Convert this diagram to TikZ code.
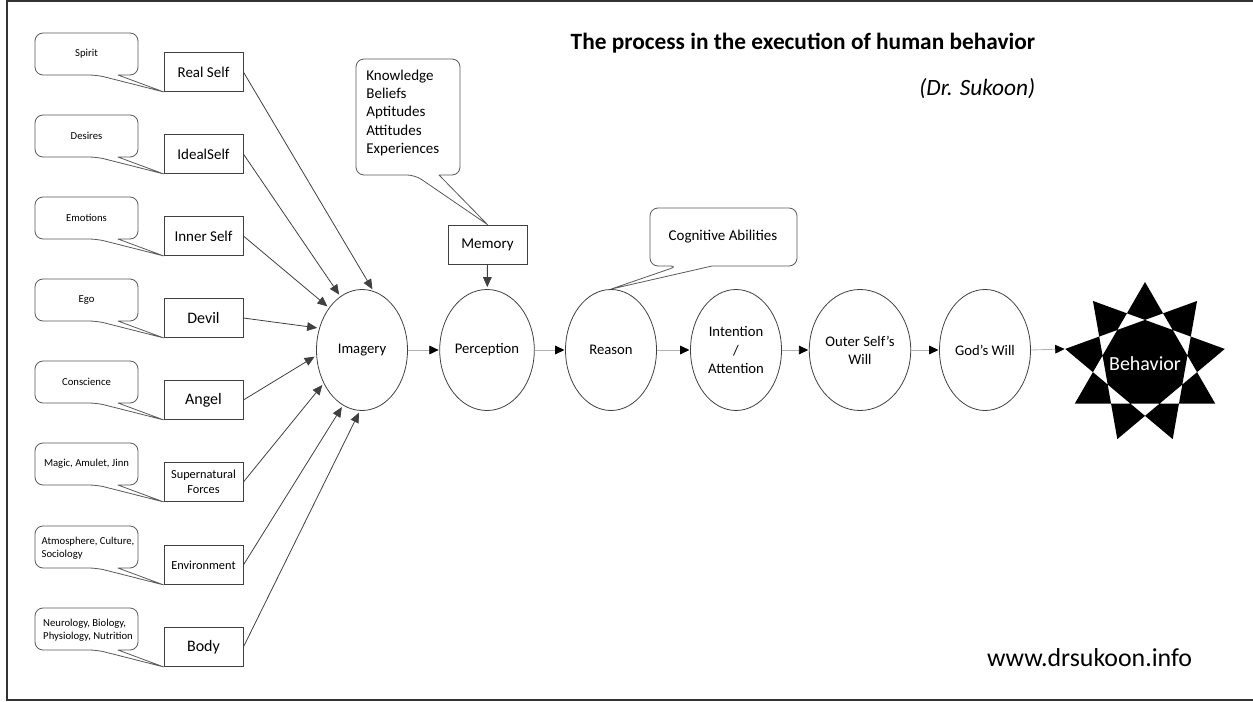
\documentclass[tikz,border=0pt]{standalone}
\usepackage{fontspec}
\setmainfont{Carlito}
\usetikzlibrary{shapes.geometric,arrows.meta}

\tikzset{every picture/.style={line width=0.6pt}}
\tikzset{
  stage/.style={draw=black!75, ellipse, minimum width=68.25pt, minimum height=90.75pt, inner sep=1pt, align=center, font=\fontsize{11}{13.75}\selectfont},
  selfbox/.style={draw=black!75, minimum width=59.25pt, minimum height=29.25pt, inner sep=1pt, align=center, font=\fontsize{11.25}{13}\selectfont},
  bigword/.style={font=\fontsize{12}{14}\selectfont},
  smallword/.style={font=\fontsize{9.25}{11.25}\selectfont},
  note/.style={align=left, inner sep=0pt, font=\fontsize{8}{9.5}\selectfont},
  bubble/.style={draw=black!65, rounded corners=6pt, line join=round},
  feed/.style={draw=black!75, shorten >=1.5pt, -{Triangle[length=7.5pt,width=6.5pt]}},
  flow/.style={draw=black!30, shorten >=0.5pt, -{Triangle[length=7pt,width=6.5pt,color=black]}}
}

\begin{document}
\begin{tikzpicture}[x=0.75pt,y=0.75pt,yscale=-1,xscale=1]
	\useasboundingbox (0,0) rectangle (1253,702);
	%Shape: Frame
	\draw [black!80, line width=1.2pt] (1253,1) -- (7,1) -- (7,700) -- (1253,700);
	
	% Text Node
	\node [anchor=base east, font=\bfseries\fontsize{17.5}{21}\selectfont] (title) at (1040,50) {The process in the execution of human behavior};
	% Text Node
	\node [anchor=base east, font=\itshape\fontsize{17.5}{21}\selectfont] (author) at (1040,96) {(Dr. Sukoon)};
	% Text Node
	\node [anchor=base east, font=\fontsize{19.4}{23}\selectfont] (site) at (1197,666) {www.drsukoon.info};
	
	%Shape: Rectangle
	\node [selfbox] (realself) at (203.5,72) {Real Self};
	\node [selfbox] (idealself) at (203.5,154) {IdealSelf};
	\node [selfbox] (innerself) at (203.5,236) {Inner Self};
	\node [selfbox, bigword] (devil) at (203.5,318) {Devil};
	\node [selfbox, bigword] (angel) at (203.5,400) {Angel};
	\node [selfbox, smallword] (supernatural) at (203.5,482) {Supernatural\\Forces};
	\node [selfbox, smallword] (environment) at (203.5,565) {Environment};
	\node [selfbox, bigword] (body) at (203.5,647) {Body};
	\node [selfbox] (memory) at (487.5,244.5) {Memory};
	
	%Shape: Callout
	\draw [bubble] (118,75) -- (138,75) -- (138,33) -- (35,33) -- (35,75) -- (97,75) [sharp corners] -- (realself.south west) -- cycle;
	\draw [bubble] (118,157) -- (138,157) -- (138,115) -- (35,115) -- (35,157) -- (97,157) [sharp corners] -- (idealself.south west) -- cycle;
	\draw [bubble] (118,239) -- (138,239) -- (138,197) -- (35,197) -- (35,239) -- (97,239) [sharp corners] -- (innerself.south west) -- cycle;
	\draw [bubble] (118,321) -- (138,321) -- (138,279) -- (35,279) -- (35,321) -- (97,321) [sharp corners] -- (devil.south west) -- cycle;
	\draw [bubble] (118,403) -- (138,403) -- (138,361) -- (35,361) -- (35,403) -- (97,403) [sharp corners] -- (angel.south west) -- cycle;
	\draw [bubble] (118,485) -- (138,485) -- (138,443) -- (35,443) -- (35,485) -- (97,485) [sharp corners] -- (supernatural.south west) -- cycle;
	\draw [bubble] (118,568) -- (138,568) -- (138,526) -- (35,526) -- (35,568) -- (97,568) [sharp corners] -- (environment.south west) -- cycle;
	\draw [bubble] (118,650) -- (138,650) -- (138,608) -- (35,608) -- (35,650) -- (97,650) [sharp corners] -- (body.south west) -- cycle;
	\draw [bubble] (439,175) -- (460,175) -- (460,59) -- (356,59) -- (356,175) -- (415,175) [sharp corners] -- (memory.north) -- cycle;
	
	% Text Node
	\node [note] (spirit) at (86.5,54) {Spirit};
	\node [note] (desires) at (86.5,136) {Desires};
	\node [note] (emotions) at (86.5,218) {Emotions};
	\node [note] (ego) at (86.5,300) {Ego};
	\node [note] (conscience) at (86.5,382) {Conscience};
	\node [note] (magic) at (86.5,464) {Magic, Amulet, Jinn};
	\node [note] (atmosphere) at (88,548) {Atmosphere, Culture,\\Sociology};
	\node [note] (neurology) at (88,630) {Neurology, Biology,\\Physiology, Nutrition};
	\node [note, anchor=west, font=\fontsize{11.25}{13.75}\selectfont] (memorylist) at (366,113) {Knowledge\\Beliefs\\Aptitudes\\Attitudes\\Experiences};
	
	%Shape: Ellipse
	\node [stage] (imagery) at (362,350) {Imagery};
	\node [stage] (perception) at (487,350) {Perception};
	\node [stage] (reason) at (611,350) {Reason};
	\node [stage] (intention) at (736,350) {Intention\\/\\Attention};
	\node [stage] (outerwill) at (860,350) {Outer Self’s\\Will};
	\node [stage] (godswill) at (985,350) {God’s Will};
	
	%Shape: Callout
	\draw [bubble] (712,266) -- (797,266) -- (797,208) -- (650,208) -- (650,266) -- (678,266) [sharp corners] -- (reason.north) -- cycle;
	% Text Node
	\node [font=\fontsize{11.25}{13.75}\selectfont] (cognitive) at (723,237) {Cognitive Abilities};
	
	%Shape: Star
	\begin{scope}[shift={(1145,363)}]
		\fill [even odd rule] \foreach \a in {-90,-130,-50} {(\a:81) -- (\a+120:81) -- (\a+240:81) -- cycle};
		\coordinate (startip) at (190:81);
	\end{scope}
	% Text Node
	\node [text=white, font=\fontsize{15}{18}\selectfont] (behavior) at (1145,364) {Behavior};
	
	%Straight Lines
	\draw [feed] (realself.east) -- (imagery.79);
	\draw [feed] (idealself.east) -- (imagery.112);
	\draw [feed] (innerself.east) -- (imagery.128);
	\draw [feed] (devil.east) -- (imagery.153);
	\draw [feed] (angel.east) -- (imagery.187);
	\draw [feed] (supernatural.east) -- (imagery.221);
	\draw [feed] (environment.east) -- (imagery.251);
	\draw [feed] (body.east) -- (imagery.268);
	\draw [feed] (memory) -- (perception);
	
	\draw [flow] (imagery) -- (perception);
	\draw [flow] (perception) -- (reason);
	\draw [flow] (reason) -- (intention);
	\draw [flow] (intention) -- (outerwill);
	\draw [flow] (outerwill) -- (godswill);
	\draw [flow] (godswill.east) -- (startip);
	
\end{tikzpicture}
\end{document}
